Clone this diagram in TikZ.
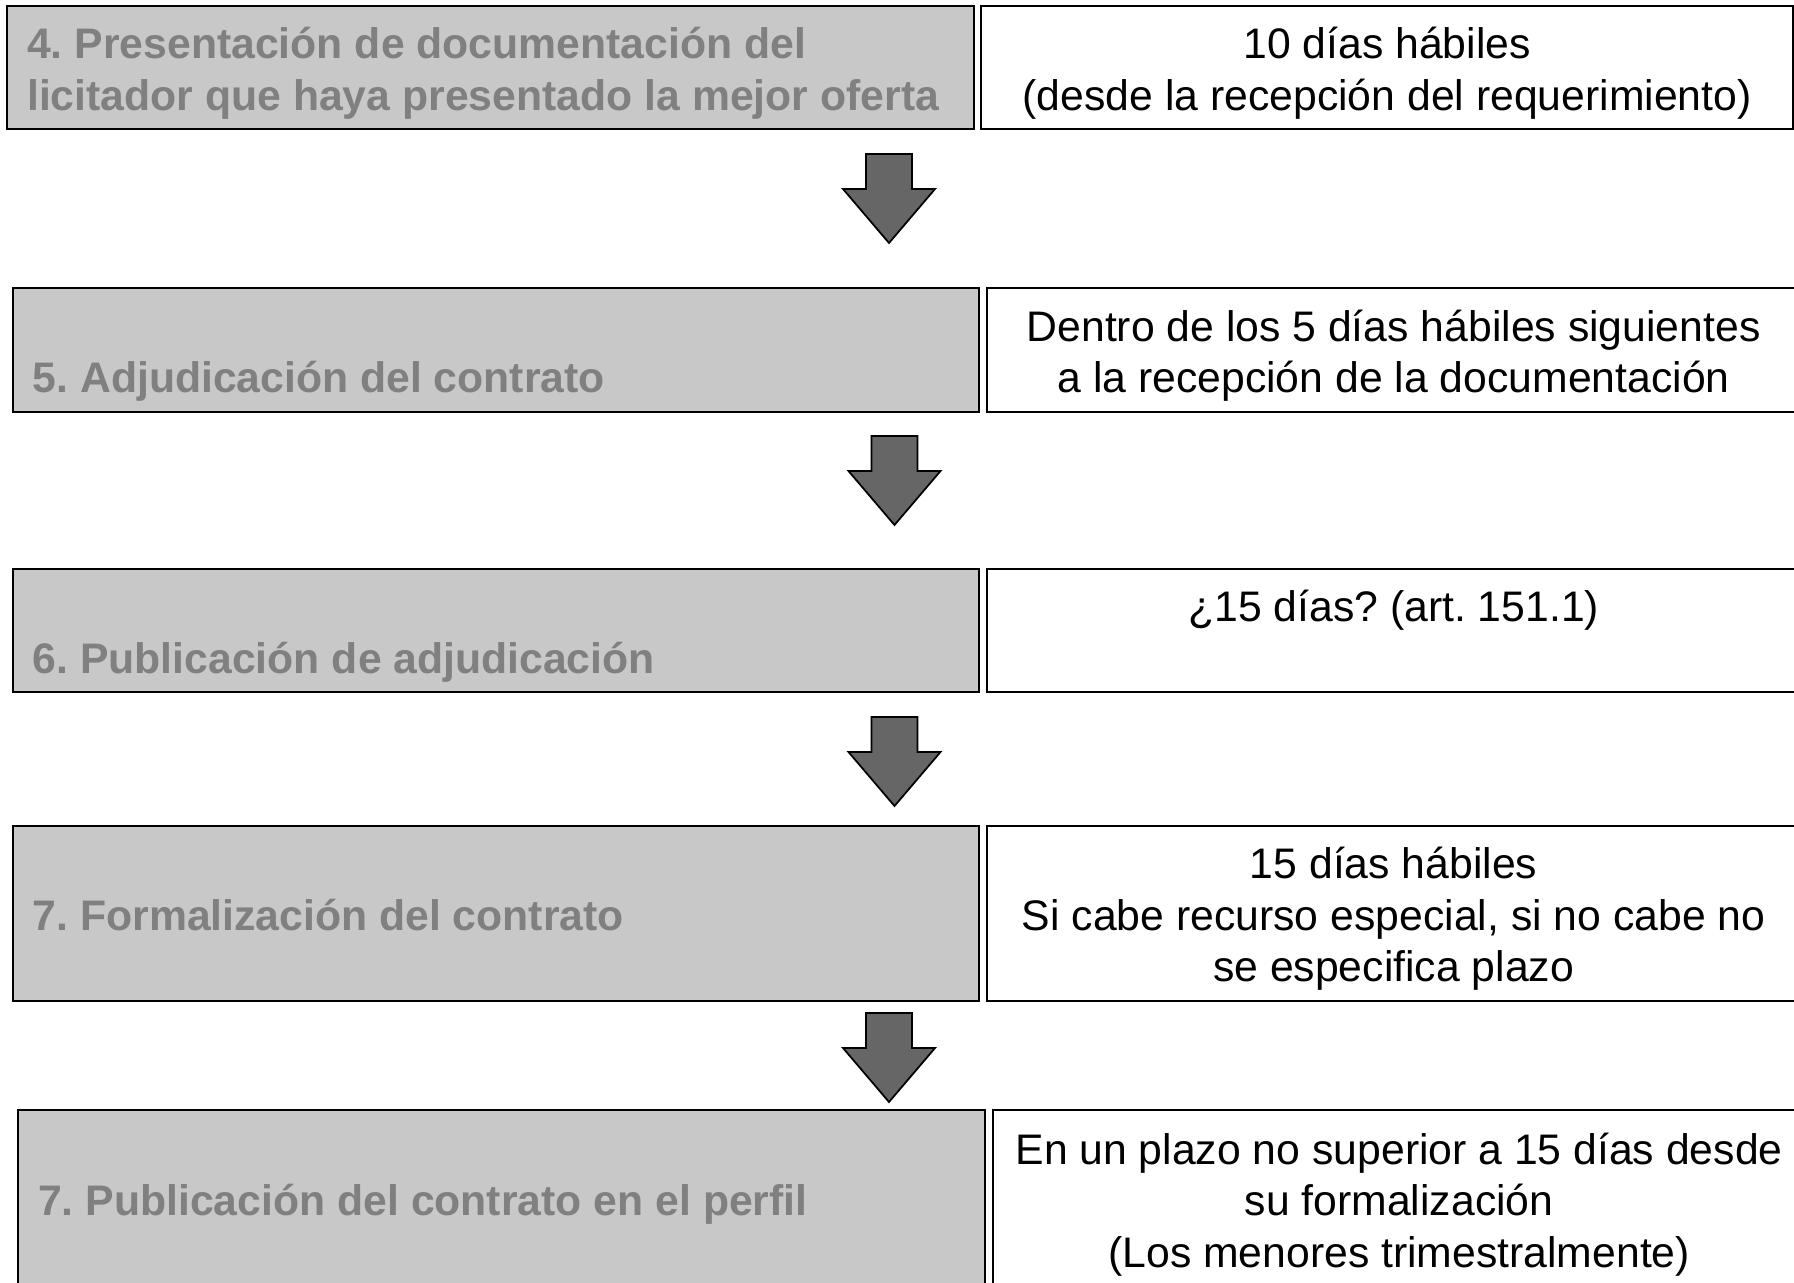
\documentclass[tikz,border=0pt]{standalone}
\usepackage{fontspec}
\setmainfont{Liberation Sans}
\usepackage{xcolor}
\usepackage{tikz}
\usetikzlibrary{positioning}
\frenchspacing

\definecolor{boxgray}{HTML}{C8C8C8}
\definecolor{txtgray}{HTML}{808080}
\definecolor{arrowgray}{HTML}{666666}

\newcommand\lineaarriba{\rule{0pt}{0.83\baselineskip}}
\newcommand\lineaabajo{\rule[-0.17\baselineskip]{0pt}{0.17\baselineskip}}

\tikzset{
  paso/.style={draw, line width=0.6pt, fill=boxgray, text=txtgray,
    font=\bfseries\fontsize{12.15}{14.65}\selectfont, align=flush left,
    text width=9.26cm, inner xsep=0.2cm, inner ysep=0pt,
    execute at begin node=\lineaarriba, execute at end node=\lineaabajo},
  plazo/.style={draw, line width=0.6pt, fill=white, text=black,
    font=\fontsize{12.15}{14.65}\selectfont, align=flush center,
    text width=8.12cm, inner sep=0pt,
    execute at begin node=\lineaarriba, execute at end node=\lineaabajo},
  flecha/.style={draw, line width=0.5pt, fill=arrowgray}
}

\begin{document}
\begin{tikzpicture}[x=0.01cm,y=-0.01cm]
  \useasboundingbox (0,0) rectangle (1794,1283);
  % pasos del procedimiento
  \node[paso, minimum height=1.23cm] (p4) at (490.5,67.5)
    {4. Presentación de documentación del\\licitador que haya presentado la mejor oferta};
  \node[paso, minimum height=1.24cm] (p5) at (496,350)
    {\mbox{}\\5. Adjudicación del contrato};
  \node[paso, minimum height=1.23cm] (p6) at (496,630.5)
    {\mbox{}\\6. Publicación de adjudicación};
  \node[paso, minimum height=1.75cm] (p7) at (496,913.5)
    {7. Formalización del contrato};
  \node[paso, minimum height=1.78cm] (p8) at (501.5,1199)
    {7. Publicación del contrato en el perfil};
  % plazos
  \node[plazo, minimum height=1.23cm, right=0.05cm of p4] (t4)
    {10 días hábiles\\(desde la recepción del requerimiento)};
  \node[plazo, minimum height=1.24cm, right=0.06cm of p5] (t5)
    {Dentro de los 5 días hábiles siguientes\\a la recepción de la documentación};
  \node[plazo, minimum height=1.23cm, right=0.06cm of p6] (t6)
    {¿15 días? (art. 151.1)\\\mbox{}};
  \node[plazo, minimum height=1.75cm, right=0.06cm of p7] (t7)
    {15 días hábiles\\Si cabe recurso especial, si no cabe no\\se especifica plazo};
  \node[plazo, minimum height=1.78cm, right=0.06cm of p8] (t8)
    {En un plazo no superior a 15 días desde\\su formalización\\(Los menores trimestralmente)};
  % flechas
  \foreach \ax/\ay in {889/154, 894.5/436, 894.5/717, 889/1013}
    \draw[flecha] (\ax,\ay) ++(-23,0) -- ++(46,0) -- ++(0,35) -- ++(23,0)
      -- ++(-46,54) -- ++(-46,-54) -- ++(23,0) -- cycle;
\end{tikzpicture}
\end{document}
